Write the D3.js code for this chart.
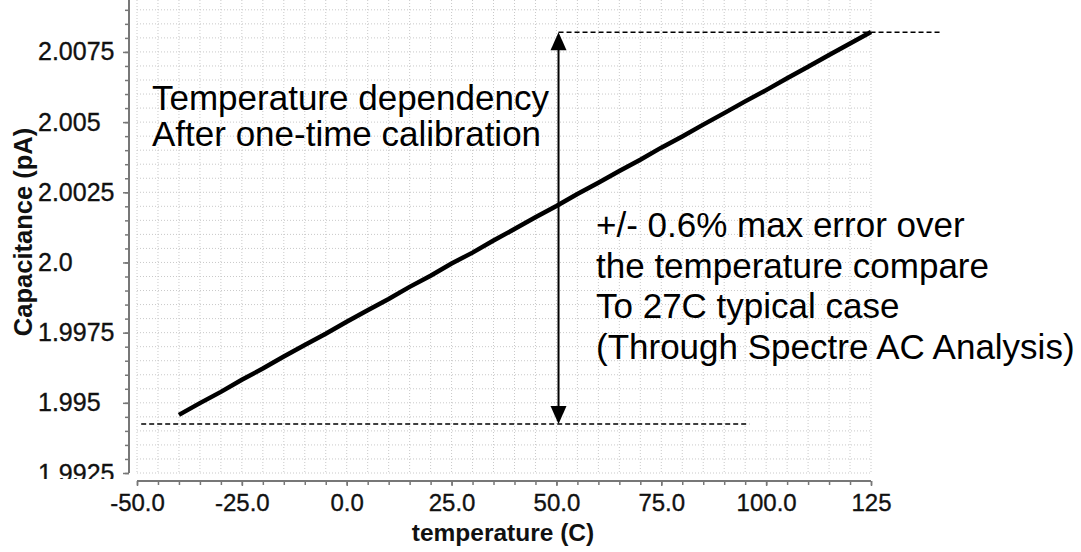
<!DOCTYPE html>
<html>
<head>
<meta charset="utf-8">
<script src="https://cdn.jsdelivr.net/npm/d3@7"></script>
<style>
  html, body { margin: 0; padding: 0; background: #fff; }
  svg { display: block; font-family: "Liberation Sans", Arial, Helvetica, sans-serif; }
</style>
</head>
<body>
<svg id="chart" width="1081" height="552"></svg>
<script>
// Simulated capacitance vs. temperature after one-time calibration
const temperature = [-40, -35, -30, -25, -20, -15, -10, -5, 0, 5, 10, 15, 20, 25, 30, 35, 40,
  45, 50, 55, 60, 65, 70, 75, 80, 85, 90, 95, 100, 105, 110, 115, 120, 125];
const capacitance = [1.99457, 1.99499, 1.99539, 1.99582, 1.99622, 1.99665, 1.99706, 1.99746,
  1.99789, 1.99830, 1.99870, 1.99913, 1.99953, 1.99996, 2.00035, 2.00078, 2.00119, 2.00161,
  2.00201, 2.00244, 2.00284, 2.00326, 2.00366, 2.00409, 2.00449, 2.00491, 2.00532, 2.00574,
  2.00614, 2.00656, 2.00697, 2.00739, 2.00780, 2.00821];

// Axis ticks
const xTickValues = [-50, -25, 0, 25, 50, 75, 100, 125];
const xTickLabels = ["-50.0", "-25.0", "0.0", "25.0", "50.0", "75.0", "100.0", "125"];
const yTickValues = [1.9925, 1.995, 1.9975, 2.0, 2.0025, 2.005, 2.0075];
const yTickLabels = ["1.9925", "1.995", "1.9975", "2.0", "2.0025", "2.005", "2.0075"];

// Error-span annotation: reference levels and where the markers sit
const spanTop = 2.0082;
const spanBottom = 1.99425;
const spanTemp = 50.5;
const topRefExtent = [50.5, 142];
const bottomRefExtent = [-49, 96];

const leftNote = ["Temperature dependency", "After one-time calibration"];
const rightNote = ["+/- 0.6% max error over", "the temperature compare",
  "To 27C typical case", "(Through Spectre AC Analysis)"];

const svg = d3.select("#chart");

const x = d3.scaleLinear().domain([-50, 125]).range([137, 871]);
const y = d3.scaleLinear().domain([1.9925, 2.00935]).range([473, 0]);

const xMinor = d3.range(-50, 125.001, 5);
const yMinor = d3.range(0, 34).map(i => 1.9925 + i * 0.0005).filter(v => v <= y.domain()[1]);

// dotted background grid at every minor step
const grid = svg.append("g");
grid.selectAll("line.gx").data(xMinor).join("line")
  .attr("x1", d => x(d)).attr("x2", d => x(d))
  .attr("y1", y.range()[1]).attr("y2", y.range()[0])
  .attr("stroke", "#c9c9c9").attr("stroke-width", 1).attr("stroke-dasharray", "1,2");
grid.selectAll("line.gy").data(yMinor).join("line")
  .attr("y1", d => y(d)).attr("y2", d => y(d))
  .attr("x1", x.range()[0]).attr("x2", x.range()[1])
  .attr("stroke", "#c9c9c9").attr("stroke-width", 1).attr("stroke-dasharray", "1,2");

const axisColor = "#777";
const tickFont = (g, size) => g.attr("font-size", size).attr("fill", "#111")
  .attr("stroke", "#111").attr("stroke-width", 0.35)
  .attr("font-family", "'Liberation Sans', Arial, sans-serif");

// y axis, drawn slightly left of the plot area; the lowest label is cut at the frame edge
const yAxisX = 129;
svg.append("clipPath").attr("id", "yclip")
  .append("rect").attr("x", 0).attr("y", 0).attr("width", 135).attr("height", 479);
const yOuter = svg.append("g").attr("clip-path", "url(#yclip)");
const yAxisG = yOuter.append("g").attr("transform", `translate(${yAxisX},0)`);
yAxisG.call(d3.axisLeft(y).tickValues(yMinor).tickSize(4).tickFormat(""));
yAxisG.call(g => g.select(".domain").remove());
yAxisG.selectAll(".tick line").attr("stroke", axisColor).attr("stroke-width", 1.5);
yAxisG.append("line").attr("x1", 0).attr("x2", 0).attr("y1", y.range()[1]).attr("y2", y.range()[0])
  .attr("stroke", axisColor).attr("stroke-width", 2);
const yMajor = yAxisG.append("g")
  .call(d3.axisLeft(y).tickValues(yTickValues).tickSize(6)
    .tickFormat((d, i) => yTickLabels[i]));
yMajor.select(".domain").remove();
yMajor.selectAll(".tick line").attr("stroke", axisColor).attr("stroke-width", 1.5);
// labels share a common left edge
yMajor.selectAll(".tick text").call(tickFont, 25)
  .attr("text-anchor", "start").attr("x", 38 - yAxisX);

// x axis, drawn slightly below the plot area
const xAxisG = svg.append("g").attr("transform", "translate(0,481)");
xAxisG.call(d3.axisBottom(x).tickValues(xMinor).tickSize(4).tickFormat(""));
xAxisG.call(g => g.select(".domain").remove());
xAxisG.selectAll(".tick line").attr("stroke", axisColor).attr("stroke-width", 1.5);
xAxisG.append("line").attr("x1", x.range()[0]).attr("x2", x.range()[1]).attr("y1", 0).attr("y2", 0)
  .attr("stroke", axisColor).attr("stroke-width", 2);
const xMajor = xAxisG.append("g")
  .call(d3.axisBottom(x).tickValues(xTickValues).tickSize(5)
    .tickFormat((d, i) => xTickLabels[i]).tickPadding(8));
xMajor.select(".domain").remove();
xMajor.selectAll(".tick line").attr("stroke", axisColor).attr("stroke-width", 1.5);
xMajor.selectAll(".tick text").call(tickFont, 24);

// axis titles
svg.append("text").attr("x", 503).attr("y", 541).attr("text-anchor", "middle")
  .attr("font-size", 24.5).attr("font-weight", "bold").attr("fill", "#111")
  .text("temperature (C)");
svg.append("text").attr("transform", "translate(32,232) rotate(-90)").attr("text-anchor", "middle")
  .attr("font-size", 25.5).attr("font-weight", "bold").attr("fill", "#111")
  .text("Capacitance (pA)");

// reference levels
svg.append("line")
  .attr("x1", x(topRefExtent[0])).attr("x2", x(topRefExtent[1]))
  .attr("y1", y(spanTop)).attr("y2", y(spanTop))
  .attr("stroke", "#000").attr("stroke-width", 1.5).attr("stroke-dasharray", "5,3");
svg.append("line")
  .attr("x1", x(bottomRefExtent[0])).attr("x2", x(bottomRefExtent[1]))
  .attr("y1", y(spanBottom)).attr("y2", y(spanBottom))
  .attr("stroke", "#000").attr("stroke-width", 1.5).attr("stroke-dasharray", "5,3");

// data curve
const data = temperature.map((t, i) => ({ t, c: capacitance[i] }));
svg.append("path").datum(data)
  .attr("fill", "none").attr("stroke", "#000").attr("stroke-width", 4.5)
  .attr("d", d3.line().x(d => x(d.t)).y(d => y(d.c)));

// double-headed arrow marking the error span
const ax = x(spanTemp), aTop = y(spanTop), aBot = y(spanBottom);
const headH = 18, headW = 8;
svg.append("line").attr("x1", ax).attr("x2", ax).attr("y1", aTop + headH - 2).attr("y2", aBot - headH + 2)
  .attr("stroke", "#000").attr("stroke-width", 2);
svg.append("path").attr("fill", "#000")
  .attr("d", `M${ax},${aTop} L${ax - headW},${aTop + headH} L${ax + headW},${aTop + headH} Z`);
svg.append("path").attr("fill", "#000")
  .attr("d", `M${ax},${aBot} L${ax - headW},${aBot - headH} L${ax + headW},${aBot - headH} Z`);

// annotation text
const lt = svg.append("text").attr("font-size", 35).attr("fill", "#000");
leftNote.forEach((s, i) => lt.append("tspan").attr("x", 152).attr("y", 110 + i * 36).text(s));
const rt = svg.append("text").attr("font-size", 35).attr("fill", "#000");
rightNote.forEach((s, i) => rt.append("tspan").attr("x", 596).attr("y", 237 + i * 40.5).text(s));
</script>
</body>
</html>
